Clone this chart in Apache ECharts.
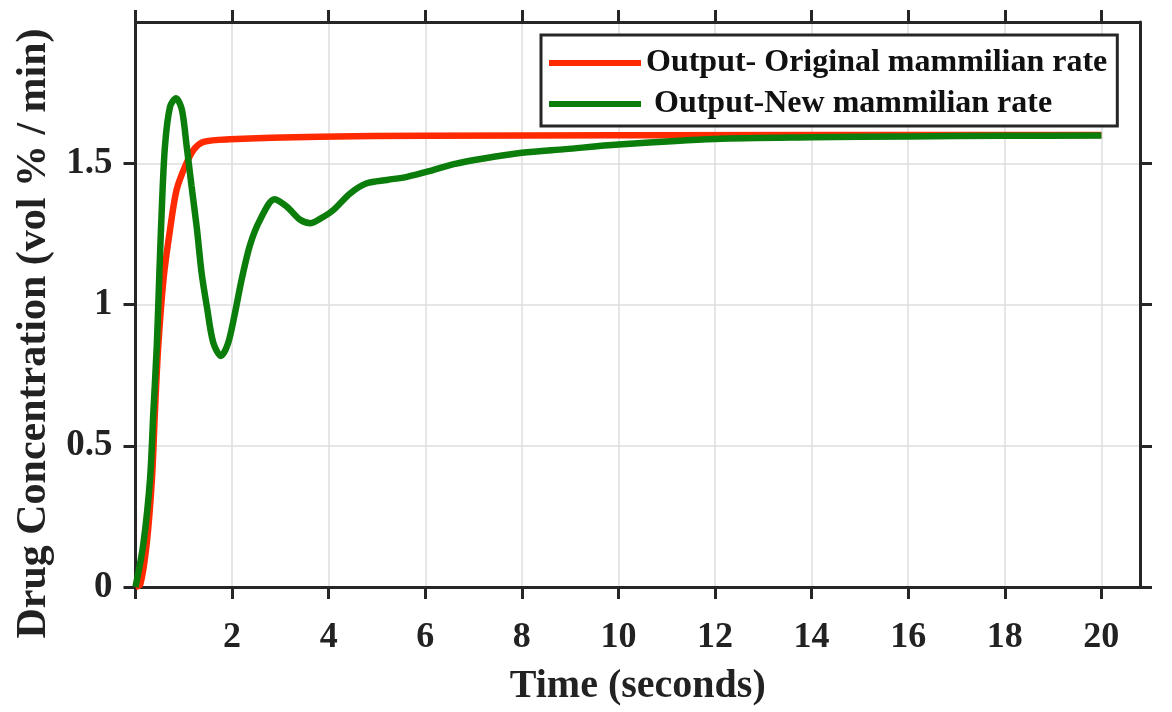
<!DOCTYPE html>
<html>
<head>
<meta charset="utf-8">
<title>Drug Concentration</title>
<script src="https://cdn.jsdelivr.net/npm/echarts@6/dist/echarts.min.js"></script>
<style>
    html, body { margin: 0; padding: 0; background: #fff; }
    #js-chart { width: 1172px; height: 712px; }
</style>
</head>
<body>
<div id="js-chart"></div>
<script>
// tick labels
var xTicks = [2, 4, 6, 8, 10, 12, 14, 16, 18, 20];
var xTickMarks = [0, 2, 4, 6, 8, 10, 12, 14, 16, 18, 20];
var yTicks = [0, 0.5, 1, 1.5];

// Output- Original mammilian rate
var redTime = [0, 0.1, 0.23, 0.34, 0.40, 0.47, 0.58, 0.715, 0.85, 1.03, 1.20, 1.41, 1.96, 3.82, 6, 10, 20];
var redValue = [0, 0.01, 0.15, 0.38, 0.61, 0.85, 1.09, 1.265, 1.405, 1.49, 1.547, 1.576, 1.585, 1.594, 1.597, 1.599, 1.6];

// Output-New mammilian rate
var greenTime = [0, 0.16, 0.30, 0.37, 0.44, 0.49, 0.54, 0.61, 0.715, 0.84, 0.96, 1.06, 1.16, 1.27, 1.37, 1.48, 1.61, 1.77,
    1.92, 2.06, 2.20, 2.37, 2.58, 2.88, 3.13, 3.41, 3.63, 3.85, 4.10, 4.45, 4.79, 5.21, 5.62, 6.04, 6.59, 7.21, 8.0, 8.9,
    10, 12, 14, 16, 18, 20];
var greenValue = [0, 0.15, 0.38, 0.62, 0.85, 1.09, 1.32, 1.56, 1.70, 1.73, 1.69, 1.56, 1.42, 1.27, 1.11, 0.99, 0.865, 0.818,
    0.865, 0.97, 1.09, 1.21, 1.30, 1.373, 1.347, 1.30, 1.288, 1.306, 1.335, 1.394, 1.429, 1.441, 1.452, 1.47, 1.497, 1.517, 1.537, 1.55,
    1.566, 1.586, 1.592, 1.595, 1.597, 1.598];

var seriesNames = ["Output- Original mammilian rate", " Output-New mammilian rate"];

var page = {
    font: '"Liberation Serif", "Times New Roman", serif',
    init: function () {
        var chart = echarts.init(document.getElementById('js-chart'));
        chart.setOption(this.option());
    },
    pairs: function (xs, ys) {
        var out = [];
        for (var i = 0; i < xs.length; i++) {
            out.push([xs[i], ys[i]]);
        }
        return out;
    },
    option: function () {
        var me = this;
        var axisLine = { show: true, onZero: false, lineStyle: { color: '#262626', width: 3 } };
        var tickStyle = { color: '#262626', width: 3 };
        return {
            animation: false,
            textStyle: { fontFamily: me.font },
            grid: { left: 135.5, right: 32, top: 22, bottom: 123.5 },
            legend: {
                orient: 'vertical',
                left: 541,
                top: 35,
                padding: [12, 10, 6, 8],
                itemGap: 9,
                itemWidth: 92,
                itemHeight: 6,
                icon: 'rect',
                backgroundColor: '#fff',
                borderColor: '#262626',
                borderWidth: 3,
                textStyle: { fontFamily: me.font, fontWeight: 'bold', fontSize: 32, color: '#111' },
                data: seriesNames
            },
            xAxis: [{
                type: 'value',
                min: 0,
                max: 20.8,
                interval: 2,
                name: 'Time (seconds)',
                nameLocation: 'middle',
                nameGap: 80,
                nameTextStyle: { fontFamily: me.font, fontWeight: 'bold', fontSize: 40, color: '#222' },
                axisLine: axisLine,
                axisTick: { show: true, inside: false, length: 12, lineStyle: tickStyle, customValues: xTickMarks },
                axisLabel: { customValues: xTicks, margin: 33, fontFamily: me.font, fontWeight: 'bold', fontSize: 36, color: '#222' },
                splitLine: { show: true, lineStyle: { color: '#dedede', width: 1.5 } }
            }, {
                type: 'value',
                position: 'top',
                min: 0,
                max: 20.8,
                interval: 2,
                axisLine: axisLine,
                axisTick: { show: true, inside: false, length: 12, lineStyle: tickStyle, customValues: xTickMarks },
                axisLabel: { show: false },
                splitLine: { show: false }
            }],
            yAxis: [{
                type: 'value',
                min: 0,
                max: 2,
                interval: 0.5,
                name: 'Drug Concentration (vol % / min)',
                nameLocation: 'middle',
                nameGap: 70,
                nameTextStyle: { fontFamily: me.font, fontWeight: 'bold', fontSize: 42, color: '#222', padding: [0, 58, 0, 0] },
                axisLine: axisLine,
                axisTick: { show: true, inside: false, length: 12, lineStyle: tickStyle, customValues: yTicks },
                axisLabel: { customValues: yTicks, margin: 23, fontFamily: me.font, fontWeight: 'bold', fontSize: 37, color: '#222' },
                splitLine: { show: true, lineStyle: { color: '#dedede', width: 1.5 } }
            }, {
                type: 'value',
                position: 'right',
                min: 0,
                max: 2,
                interval: 0.5,
                axisLine: axisLine,
                axisTick: { show: true, inside: false, length: 12, lineStyle: tickStyle, customValues: yTicks },
                axisLabel: { show: false },
                splitLine: { show: false }
            }],
            series: [{
                name: seriesNames[0],
                type: 'line',
                smooth: 0.3,
                symbol: 'none',
                color: '#ff2a00',
                lineStyle: { width: 6.5 },
                data: me.pairs(redTime, redValue)
            }, {
                name: seriesNames[1],
                type: 'line',
                smooth: 0.3,
                symbol: 'none',
                color: '#0b7d0b',
                lineStyle: { width: 6.5 },
                data: me.pairs(greenTime, greenValue)
            }]
        };
    }
};
page.init();
</script>
</body>
</html>
